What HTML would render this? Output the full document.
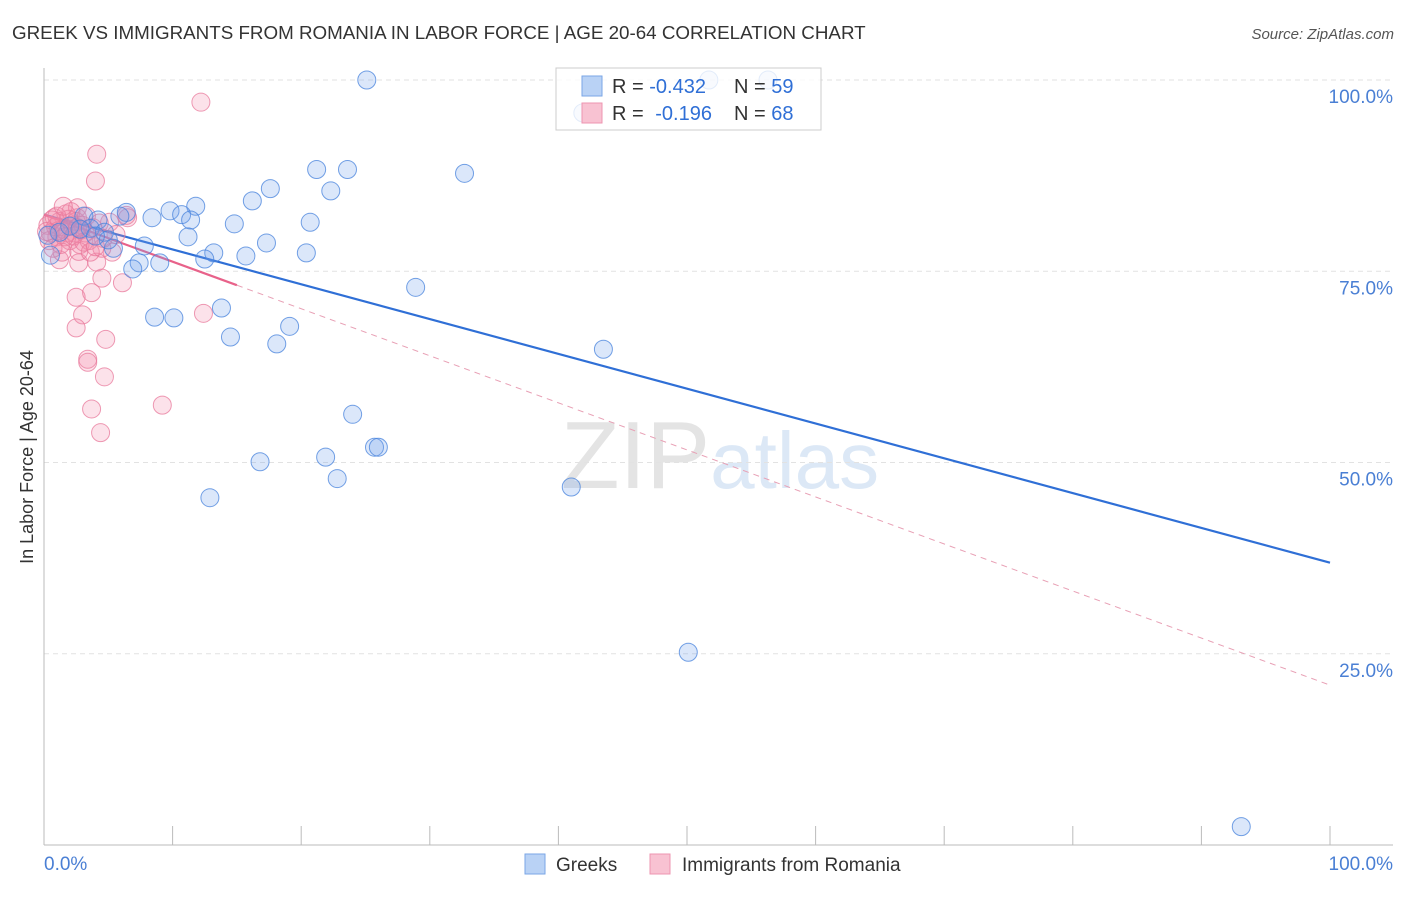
<!DOCTYPE html>
<html><head><meta charset="utf-8"><style>
body{margin:0;background:#fff;font-family:"Liberation Sans",sans-serif}
svg text{font-family:"Liberation Sans",sans-serif}
</style></head><body>
<svg width="1406" height="892" xmlns="http://www.w3.org/2000/svg" id="chart">
<text x="12" y="39" font-size="18.8" fill="#333">GREEK VS IMMIGRANTS FROM ROMANIA IN LABOR FORCE | AGE 20-64 CORRELATION CHART</text>
<text x="1394" y="39" font-size="15" fill="#555" text-anchor="end" font-style="italic">Source: ZipAtlas.com</text>
<text x="720" y="488" font-size="96" text-anchor="middle" fill="#e4e4e4" font-family="Liberation Serif">ZIP<tspan fill="#dce8f6" font-family="Liberation Sans" font-size="80">atlas</tspan></text>
<text transform="translate(33,457) rotate(-90)" font-size="18" fill="#333" text-anchor="middle">In Labor Force | Age 20-64</text>
<g id="grid"></g><g id="axes"></g><g id="lines"></g><g id="points"></g>
<g>
<rect x="556" y="68" width="265" height="62" fill="rgba(255,255,255,0.8)" stroke="#ccc"/>
<rect x="582" y="76" width="20" height="20" fill="#b9d2f5" stroke="#7aa6e6"/>
<rect x="582" y="103" width="20" height="20" fill="#f8c2d2" stroke="#ee94b0"/>
<text x="612" y="93" font-size="20" fill="#333">R = <tspan fill="#2f6fd6">-0.432</tspan></text>
<text x="734" y="93" font-size="20" fill="#333">N = <tspan fill="#2f6fd6">59</tspan></text>
<text x="612" y="120" font-size="20" fill="#333">R = <tspan dx="6" fill="#2f6fd6">-0.196</tspan></text>
<text x="734" y="120" font-size="20" fill="#333">N = <tspan fill="#2f6fd6">68</tspan></text>
</g>
<g>
<rect x="525" y="854" width="20" height="20" fill="#b9d2f5" stroke="#7aa6e6"/>
<text x="556" y="871" font-size="19" fill="#333">Greeks</text>
<rect x="650" y="854" width="20" height="20" fill="#f8c2d2" stroke="#ee94b0"/>
<text x="682" y="871" font-size="19" fill="#333">Immigrants from Romania</text>
</g>
</svg>
<script>
const yTicks=[25,50,75,100];
const yTickLabels=["25.0%","50.0%","75.0%","100.0%"];
const xTicks=[0,10,20,30,40,50,60,70,80,90,100];
const greeksX=[25.1,51.7,56.3,41.9,21.2,23.6,32.7,17.6,22.3,16.2,11.8,9.8,6.4,8.4,10.7,11.4,20.7,14.8,3.1,4.2,5.9,3.6,4.7,11.2,17.3,7.8,13.2,15.7,20.4,12.5,5.4,7.4,9.0,6.9,28.9,13.8,8.6,10.1,19.1,14.5,18.1,43.5,24.0,25.7,26.0,21.9,16.8,22.8,41.0,12.9,50.1,93.1,0.5,5.0,1.2,2.0,2.8,0.3,4.0];
const greeksY=[100,100,100,95.7,88.3,88.3,87.8,85.8,85.5,84.2,83.5,82.9,82.7,82.0,82.4,81.7,81.4,81.2,82.2,81.7,82.2,80.6,80.1,79.5,78.7,78.3,77.4,77.0,77.4,76.6,78.0,76.1,76.1,75.3,72.9,70.2,69.0,68.9,67.8,66.4,65.5,64.8,56.3,52.0,52.0,50.7,50.1,47.9,46.8,45.4,25.2,2.4,77.1,79.1,80.1,80.9,80.5,79.7,79.6];
const romX=[12.2,4.1,4.0,2.6,6.5,5.1,4.5,6.1,2.5,3.7,3.0,2.5,4.8,3.4,3.4,4.7,3.7,9.2,4.4,12.4,4.1,2.7,1.2,5.3,4.5,0.3,0.5,0.8,1.0,1.2,1.5,1.7,2.0,2.2,2.4,2.6,2.8,3.0,3.2,3.5,0.4,0.9,1.3,1.8,2.1,2.5,3.3,0.6,1.1,1.6,2.3,2.9,3.8,4.3,4.6,1.4,2.7,0.7,6.4,3.6,1.9,0.2,2.6,1.0,3.1,5.6,4.0,1.5];
const romY=[97.1,90.3,86.8,83.3,82.0,81.4,74.1,73.5,71.6,72.2,69.3,67.6,66.1,63.5,63.1,61.2,57.0,57.5,53.9,69.5,76.2,76.1,76.5,77.5,78.0,81,80,82,79.5,81.5,80.5,82.5,79,81,80,82,78.5,81,80,79,79,80.8,78.5,80,82.8,81.5,82.2,81.7,80.3,79.5,79.6,80.4,80.7,81.3,79.3,77.5,77.6,78,82.3,77.5,81.8,80.2,80.7,82.2,78.8,79.8,78.2,83.5];
const greekFit=[82.4,36.9];
const romFit=[82.4,20.9];
const romSolidEnd=15;
const NS="http://www.w3.org/2000/svg";
const X=v=>44+v*12.86, Y=v=>845-v*7.65;
function mk(tag,attrs,parent){const e=document.createElementNS(NS,tag);for(const k in attrs)e.setAttribute(k,attrs[k]);document.getElementById(parent).appendChild(e);return e;}
yTicks.forEach((t,i)=>{
 const g=mk('line',{x1:44,x2:1393,y1:Y(t),y2:Y(t),stroke:'#e2e2e2','stroke-dasharray':'5,4'},'grid');
 
 
 const l=mk('text',{x:1393,y:Y(t)+23,'font-size':19,fill:'#4a7fd4','text-anchor':'end'},'grid');
 l.textContent=yTickLabels[i];
 
 
});
const ax=mk('line',{x1:44,x2:44,y1:68,y2:845,stroke:'#bbb'},'axes');


const bx=mk('line',{x1:44,x2:1393,y1:845,y2:845,stroke:'#bbb'},'axes');


xTicks.forEach(t=>{const e=mk('line',{x1:X(t),x2:X(t),y1:826,y2:845,stroke:'#bbb'},'axes');
 
 });
const xl0=mk('text',{x:44,y:870,'font-size':19,fill:'#4a7fd4'},'axes');xl0.textContent='0.0%';


const xl1=mk('text',{x:1393,y:870,'font-size':19,fill:'#4a7fd4','text-anchor':'end'},'axes');xl1.textContent='100.0%';


function pts(xs,ys,fill,stroke,name){xs.forEach((x,i)=>{const c=mk('circle',{cx:X(x),cy:Y(ys[i]),r:9,fill:fill,stroke:stroke,'stroke-width':1},'points');
 
 });}
pts(romX,romY,'rgba(242,140,170,0.25)','rgba(232,120,155,0.75)','romania-point');
pts(greeksX,greeksY,'rgba(110,160,235,0.25)','rgba(70,130,220,0.75)','greek-point');
const at=(f,x)=>f[0]+(f[1]-f[0])*x/100;
const bl=mk('line',{x1:X(0),y1:Y(greekFit[0]),x2:X(100),y2:Y(greekFit[1]),stroke:'#2f6fd6','stroke-width':2.2},'lines');


const pl=mk('line',{x1:X(0),y1:Y(romFit[0]),x2:X(romSolidEnd),y2:Y(at(romFit,romSolidEnd)),stroke:'#e8628a','stroke-width':2.2},'lines');


const pd=mk('line',{x1:X(romSolidEnd),y1:Y(at(romFit,romSolidEnd)),x2:X(100),y2:Y(romFit[1]),stroke:'#e8a0b5','stroke-width':1,'stroke-dasharray':'6,5'},'lines');


</script>
</body></html>
